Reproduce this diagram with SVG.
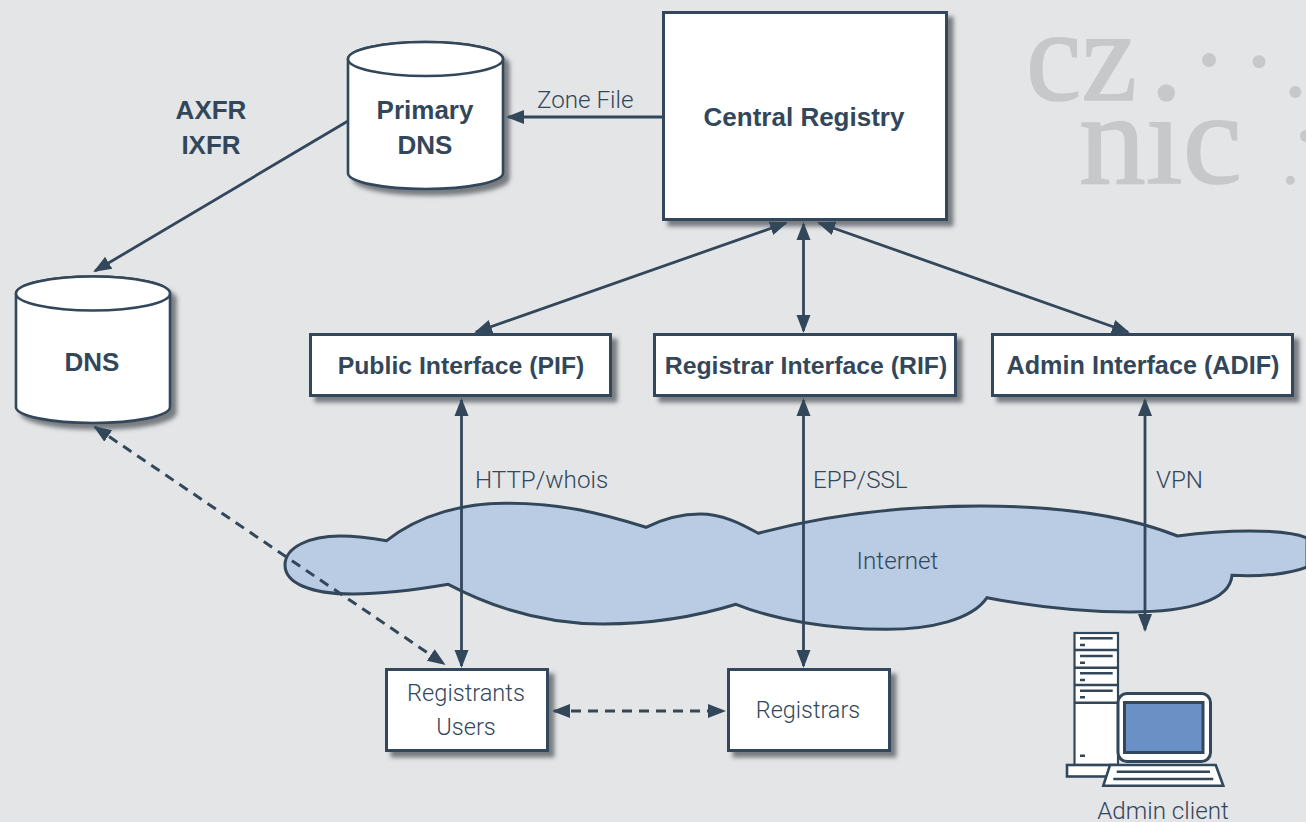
<svg xmlns="http://www.w3.org/2000/svg" width="1306" height="822" viewBox="0 0 1306 822">
<style>
.b{fill:#fff;stroke:#33475b;stroke-width:3}
.cy{fill:#fff;stroke:#33475b;stroke-width:2.600}
.bt{font-family:"Liberation Sans",Arial,sans-serif;font-weight:700;font-size:26px;fill:#33475b;text-anchor:middle}
.bi{font-size:24.800px}
.lt{font-family:Roboto,"Liberation Sans",sans-serif;font-weight:300;font-size:24.200px;fill:#33475b}
.m{text-anchor:middle}
.c{fill:none;stroke:#33475b;stroke-width:2.800;marker-end:url(#a)}
.d{marker-start:url(#a)}
.ds{stroke-dasharray:10 7;stroke-width:3}
.i{fill:#fff;stroke:#33475b;stroke-width:2.200}
.il{stroke:#33475b;stroke-width:2.600;fill:none}
.lg{fill:#c6c8ca}
.ls{font-family:"Liberation Serif","Times New Roman",serif;font-size:131px;fill:#c6c8ca;stroke:#c6c8ca;stroke-width:1.600}
</style>
<defs>
<filter id="s" x="-10%" y="-10%" width="125%" height="130%"><feDropShadow dx="5.500" dy="5.500" stdDeviation="2.200" flood-color="#4a4f55" flood-opacity=".7"/></filter>
<marker id="a" markerUnits="userSpaceOnUse" markerWidth="20" markerHeight="16" viewBox="0 0 20 16" refX="16" refY="8" orient="auto-start-reverse"><path d="M0,1L18,8L0,15Z" fill="#33475b"/></marker>
<clipPath id="nc"><rect x="1070" y="118" width="180" height="80"/></clipPath>
</defs>
<rect width="1306" height="822" fill="#e4e5e7"/>
<g id="logo">
<text class="ls" x="1026" y="100" textLength="111" lengthAdjust="spacingAndGlyphs">cz</text>
<text class="ls" x="1079" y="183" textLength="163" lengthAdjust="spacingAndGlyphs" clip-path="url(#nc)">nic</text>
<circle class="lg" cx="1166.300" cy="93" r="8.700"/>
<circle class="lg" cx="1209" cy="60" r="7"/>
<circle class="lg" cx="1259" cy="61.700" r="6.500"/>
<circle class="lg" cx="1295.300" cy="92" r="6"/>
<circle class="lg" cx="1306" cy="136" r="6"/>
<circle class="lg" cx="1290.300" cy="180.300" r="4.500"/>
</g>
<g id="internet">
<path d="M386.700,540.700C420,514 465,503 506.700,503.300C560,503 600,513 646,527.300C665,518 682,514 700,514C722,514 740,523 758.300,533.300C830,514 910,506 981,506C1060,506 1125,515 1177.600,536C1200,533 1225,531 1249.600,531C1275,531 1296,533 1307,538L1307,567C1290,574 1260,577 1232,575.300C1230,600 1190,612 1130,612C1080,612 1030,606 987,597.700C972,620 930,629.300 887,629.300C830,629.300 775,620 736,604.300C695,617 650,624 603,624C545,624 495,609 448.300,584.300C415,590 385,594 353,594C310,594 285,583 285,565C285,547 310,536 340,536C357,536 372,538 386.700,540.700Z" fill="#b9cce4" stroke="#33475b" stroke-width="3"/>
<text class="lt m" x="897.500" y="569">Internet</text>
</g>
<g id="central-registry">
<rect class="b" x="663.500" y="12.500" width="283" height="207" filter="url(#s)"/>
<text class="bt" x="804" y="126">Central Registry</text>
</g>
<g id="primary-dns">
<path class="cy" d="M348,59A77.500,17 0 0 1 503,59V173C503,182 468,189 425.500,189C383,189 348,182 348,173Z" filter="url(#s)"/>
<ellipse class="cy" cx="425.500" cy="59" rx="77.500" ry="17"/>
<text class="bt" x="425" y="119">Primary</text>
<text class="bt" x="425" y="154">DNS</text>
</g>
<g id="dns">
<path class="cy" d="M16,293.500A77,17 0 0 1 170,293.500V407C170,416 135,423 93,423C51,423 16,416 16,407Z" filter="url(#s)"/>
<ellipse class="cy" cx="93" cy="293.500" rx="77" ry="17"/>
<text class="bt" x="92" y="371">DNS</text>
</g>
<g id="pif">
<rect class="b" x="310.500" y="334.500" width="300" height="61" filter="url(#s)"/>
<text class="bt bi" x="461" y="374">Public Interface (PIF)</text>
</g>
<g id="rif">
<rect class="b" x="654.500" y="334.500" width="301" height="61" filter="url(#s)"/>
<text class="bt bi" x="806" y="374">Registrar Interface (RIF)</text>
</g>
<g id="adif">
<rect class="b" x="992.500" y="334.500" width="300" height="61" filter="url(#s)"/>
<text class="bt bi" x="1143" y="374" style="font-size:25.200px">Admin Interface (ADIF)</text>
</g>
<g id="registrants">
<rect class="b" x="386.500" y="669.500" width="161" height="81" filter="url(#s)"/>
<text class="lt m" x="466" y="701" style="font-size:23.600px">Registrants</text>
<text class="lt m" x="466" y="735" style="font-size:23.600px">Users</text>
</g>
<g id="registrars">
<rect class="b" x="728.500" y="669.500" width="161" height="81" filter="url(#s)"/>
<text class="lt m" x="808" y="718" style="font-size:23.400px">Registrars</text>
</g>
<g id="admin-client">
<rect class="i" x="1074.500" y="633" width="43.500" height="132"/>
<g class="il">
<path d="M1074.500,650H1118M1074.500,667.700H1118M1074.500,685H1118M1074.500,702.700H1118"/>
<path d="M1080,638.300H1112.700M1080,656H1112.700M1080,673.300H1112.700M1080,690.700H1112.700"/>
<path d="M1080,645H1085M1080,662.700H1085M1080,680H1085M1080,697.300H1085M1080,755.700H1085"/>
</g>
<rect class="i" x="1067" y="765" width="48" height="11.500" style="stroke-width:2.600"/>
<rect class="i" x="1118" y="693.500" width="92.500" height="68" rx="9" style="stroke-width:3"/>
<rect x="1124.500" y="702.500" width="78.500" height="50" fill="#6b90c6" stroke="#33475b" stroke-width="3"/>
<path class="i" d="M1110,765H1215.700L1223.300,785.700H1103.300Z" style="stroke-width:2.600"/>
<path class="il" d="M1116.700,771.700H1210M1113.300,779H1213.300"/>
<text class="lt m" x="1163" y="819">Admin client</text>
</g>
<g id="connectors">
<path class="c" d="M663,117H508"/>
<path class="c" d="M348,121L95,271"/>
<path class="c d" d="M786,223L476,332"/>
<path class="c d" d="M803.500,224V331"/>
<path class="c d" d="M819,223L1128,332"/>
<path class="c d" d="M461.500,400V666"/>
<path class="c d" d="M803.500,400V666"/>
<path class="c d" d="M1145,400V630"/>
<path class="c d ds" d="M95,427L444,664"/>
<path class="c d ds" d="M554,711H724"/>
</g>
<g id="labels" class="lt">
<text x="537" y="108">Zone File</text>
<text x="475" y="488">HTTP/whois</text>
<text x="813" y="488">EPP/SSL</text>
<text x="1156" y="488">VPN</text>
</g>
<g id="axfr" class="bt">
<text x="211" y="119">AXFR</text>
<text x="211" y="154">IXFR</text>
</g>
</svg>
